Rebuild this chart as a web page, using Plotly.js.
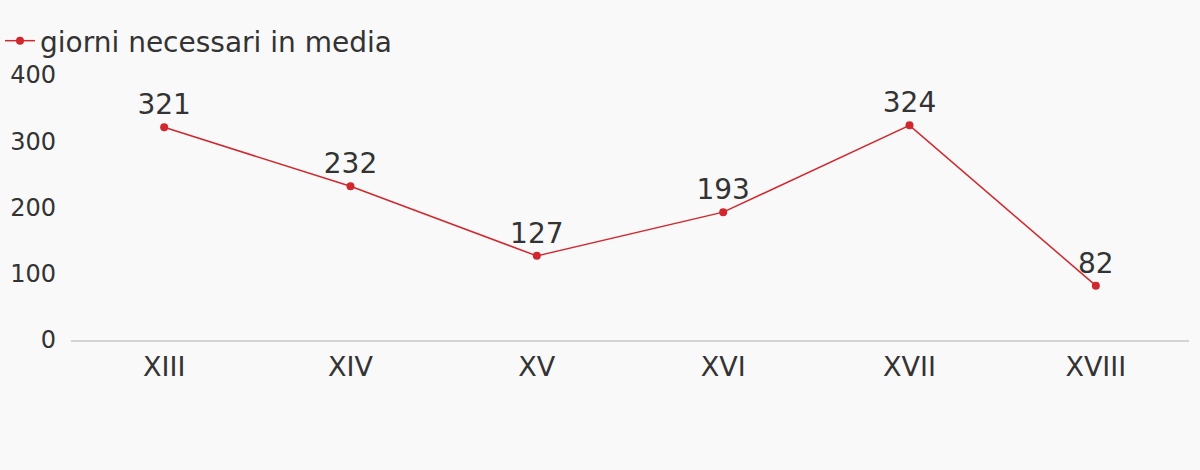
<!DOCTYPE html>
<html><head><meta charset="utf-8">
<script src="https://cdn.plot.ly/plotly-3.0.1.min.js"></script>
<style>html,body{margin:0;padding:0;background:#f9f9f9;}</style>
</head><body>
<div id="chart" style="width:1200px;height:470px;"></div>
<script>
const categories = ["XIII", "XIV", "XV", "XVI", "XVII", "XVIII"];
const giorni = [321, 232, 127, 193, 324, 82];
const seriesName = "giorni necessari in media";

const trace = {
  x: categories, y: giorni, name: seriesName,
  type: 'scatter', mode: 'lines+markers+text',
  text: giorni.map(String), textposition: 'top center',
  textfont: {size: 28, color: '#333333', family: 'DejaVu Sans'},
  line: {color: '#d0282e', width: 1.5},
  marker: {color: '#d0282e', size: 8},
  cliponaxis: false
};
const layout = {
  width: 1200, height: 470,
  paper_bgcolor: '#f9f9f9', plot_bgcolor: '#f9f9f9',
  font: {family: 'DejaVu Sans', color: '#333333'},
  margin: {l: 71, r: 11, t: 75, b: 130},
  showlegend: true,
  legend: {x: 0, y: 0.966, xref: 'container', yref: 'container', xanchor: 'left', yanchor: 'top',
    orientation: 'h', itemwidth: 30, font: {size: 28, color: '#333333'}, bgcolor: 'rgba(0,0,0,0)'},
  xaxis: {type: 'category', range: [-0.5, 5.5], showgrid: false, zeroline: false,
    showline: true, linecolor: '#d3d3d3', linewidth: 2, ticks: '', ticklabelstandoff: 2,
    tickfont: {size: 27, color: '#333333'}, fixedrange: true},
  yaxis: {range: [0, 400], tickvals: [0, 100, 200, 300, 400], showgrid: false, zeroline: false,
    showline: false, ticks: '', ticklabelstandoff: 14, tickfont: {size: 24, color: '#333333'}, fixedrange: true}
};
Plotly.newPlot('chart', [trace], layout, {displayModeBar: false, staticPlot: true});
</script>
</body></html>
